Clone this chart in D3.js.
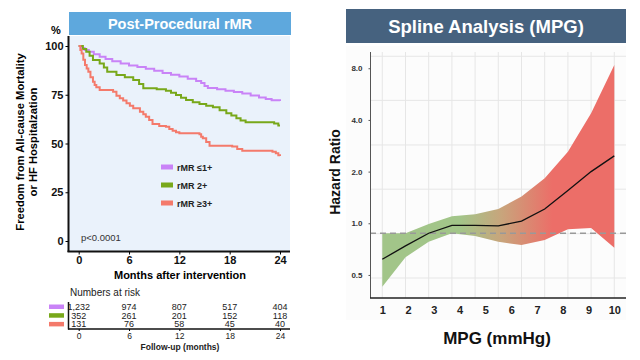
<!DOCTYPE html>
<html><head><meta charset="utf-8">
<script src="https://cdn.jsdelivr.net/npm/d3@7"></script>
<style>body{margin:0;background:#fff}svg{display:block;font-family:"Liberation Sans",Arial,sans-serif}</style>
</head><body><svg id="c" width="640" height="360"></svg>
<script>
// ---------- Left panel data (Kaplan-Meier) ----------
const kmGroups = ["rMR ≤1+", "rMR 2+", "rMR ≥3+"];
const kmColors = ["#c983f7", "#78a81a", "#f47a6b"];
const kmTimeTicks = [0, 6, 12, 18, 24];
const kmYTicks = [0, 25, 50, 75, 100];
const kmPurple = [[0,100],[0.3,99],[0.7,98],[1.2,97],[1.8,95.8],[2.5,94.5],[3.2,93.3],[4,92.2],[5,91],[6,90],[7,89.2],[8,88.3],[9,87.3],[10,86.2],[11,85.2],[12,84.4],[13,83.2],[14,82],[14.6,81],[15,79.5],[15.4,78.5],[16.5,77.8],[17.5,77],[18.5,76.4],[19.5,75.6],[20.5,74.6],[21.5,73.6],[22.3,72.8],[23,72.2],[24,71.8]];
const kmGreen = [[0,100],[0.5,98.5],[0.9,97],[1.3,95],[1.7,92.8],[2.5,91],[3,89],[3.4,86.8],[4.5,85.1],[5.5,84],[6.5,82.6],[7.2,80.5],[7.7,78.3],[9.3,77.8],[10.4,77],[11,76],[11.6,74.9],[12.2,73.5],[12.8,72.3],[13.6,71.2],[14.4,70.3],[15.2,69.4],[16,68.6],[16.8,67],[17.6,65.5],[18.2,64.3],[18.8,62.9],[19.3,61.8],[19.9,60.9],[23.3,60.3],[23.8,59.2],[24,59.2]];
const kmRed = [[0,100],[0.2,98],[0.35,96.2],[0.55,93],[0.75,90.3],[0.95,88.5],[1.15,86.8],[1.4,84],[1.7,81.7],[1.9,80],[2.1,78.8],[2.5,77.4],[4.1,76.5],[4.5,74.5],[4.9,73.2],[5.3,72],[5.7,70.6],[6.1,69.3],[6.5,68.1],[7.3,66.3],[7.7,65],[8,63.7],[8.4,62],[8.8,60],[9.6,59],[10.4,58.6],[10.8,57.5],[11.2,56.6],[11.6,55.8],[12,55.2],[14.4,54.7],[14.6,53.5],[14.8,52.7],[15.2,50.8],[15.6,48.9],[18.3,48.4],[18.9,47.2],[19.5,46.3],[23.1,45.8],[23.5,45],[23.8,44],[24,43.6]];
const atRiskPurple = ["1,232", "974", "807", "517", "404"];
const atRiskGreen = ["352", "261", "201", "152", "118"];
const atRiskRed = ["131", "76", "58", "45", "40"];

// ---------- Right panel data (spline) ----------
const mpgPoints = [1, 1.9, 2.8, 3.7, 4.6, 5.5, 6.4, 7.3, 8.2, 9.1, 10];
const hrEstimate = [0.617, 0.738, 0.875, 0.973, 0.973, 0.965, 1.03, 1.21, 1.55, 2.0, 2.47];
const hrUpper = [0.875, 0.875, 0.99, 1.10, 1.13, 1.21, 1.43, 1.83, 2.61, 4.37, 8.35];
const hrLower = [0.427, 0.634, 0.78, 0.875, 0.843, 0.78, 0.747, 0.80, 0.923, 0.94, 0.72];
const mpgTicks = [1, 2, 3, 4, 5, 6, 7, 8, 9, 10];
const hrTicks = [0.5, 1.0, 2.0, 4.0, 8.0];
const hrGrid = [0.48, 0.87, 1.58, 2.86, 5.2, 9.4];
const hrRef = 0.875;

const svg = d3.select("#c");

// ================= LEFT PANEL =================
const L = svg.append("g");
L.append("rect").attr("x",69).attr("y",12).attr("width",222).attr("height",23).attr("fill","#5ea8dd");
L.append("text").attr("x",180).attr("y",29).attr("text-anchor","middle").attr("fill","#fff")
  .attr("font-weight","bold").attr("font-size",14.5).text("Post-Procedural rMR");
L.append("rect").attr("x",69).attr("y",36).attr("width",221).attr("height",216).attr("fill","#eaf2fb");

const kx = d3.scaleLinear().domain([0,24]).range([78.7,280]);
const ky = d3.scaleLinear().domain([0,100]).range([241,46]);

const line = d3.line().x(d=>kx(d[0])).y(d=>ky(d[1])).curve(d3.curveStepAfter);
[kmPurple, kmGreen, kmRed].forEach((s,i)=>{
  L.append("path").attr("d", line(s)).attr("fill","none").attr("stroke",kmColors[i]).attr("stroke-width",2);
});

// axes
const yAx = L.append("g").attr("transform","translate(68.5,0)")
  .call(d3.axisLeft(ky).tickValues(kmYTicks).tickSize(3).tickPadding(2));
yAx.select(".domain").attr("d","M0,36V252").attr("stroke","#111").attr("stroke-width",2);
yAx.selectAll("text").attr("font-size",11).attr("font-weight","bold").attr("fill","#111").attr("font-family","Liberation Sans, Arial, sans-serif");
const xAx = L.append("g").attr("transform","translate(0,251.5)")
  .call(d3.axisBottom(kx).tickValues(kmTimeTicks).tickSize(3).tickPadding(2));
xAx.select(".domain").attr("d","M67.5,0H290").attr("stroke","#111").attr("stroke-width",2);
xAx.selectAll("text").attr("font-size",11).attr("font-weight","bold").attr("fill","#111").attr("font-family","Liberation Sans, Arial, sans-serif");

L.append("text").attr("x",56).attr("y",34).attr("text-anchor","middle").attr("font-weight","bold").attr("font-size",11).text("%");
L.append("text").attr("x",180).attr("y",279).attr("text-anchor","middle").attr("font-weight","bold").attr("font-size",11).text("Months after intervention");
const yl = L.append("text").attr("transform","translate(24,142) rotate(-90)").attr("text-anchor","middle").attr("font-weight","bold").attr("font-size",11.2);
yl.append("tspan").attr("x",0).attr("dy",0).text("Freedom from All-cause Mortality");
yl.append("tspan").attr("x",0).attr("dy",12.5).text("or HF Hospitalzation");

// legend
kmGroups.forEach((g,i)=>{
  const yy = 167 + i*18;
  L.append("rect").attr("x",161).attr("y",yy-2.5).attr("width",12).attr("height",5).attr("fill",kmColors[i]);
  L.append("text").attr("x",177).attr("y",yy+3.5).attr("font-size",9).attr("font-weight","bold").attr("fill","#222").text(g);
});
L.append("text").attr("x",81).attr("y",241).attr("font-size",9.5).attr("fill","#333").text("p<0.0001");

// numbers at risk
L.append("text").attr("x",70).attr("y",296).attr("font-size",10).attr("fill","#222").text("Numbers at risk");
[atRiskPurple, atRiskGreen, atRiskRed].forEach((row,i)=>{
  const yy = 306.5 + i*8.7;
  L.append("rect").attr("x",49).attr("y",yy-2).attr("width",15).attr("height",4.5).attr("fill",kmColors[i]);
  row.forEach((v,j)=>{
    L.append("text").attr("x",kx(kmTimeTicks[j])).attr("y",yy+3.5).attr("text-anchor","middle").attr("font-size",9).attr("fill","#222").text(v);
  });
});
const rAx = L.append("g").attr("transform","translate(0,329)")
  .call(d3.axisBottom(kx).tickValues(kmTimeTicks).tickSize(2).tickPadding(2));
rAx.select(".domain").attr("d","M68,0H290").attr("stroke","#111").attr("stroke-width",1.5);
rAx.selectAll("text").attr("font-size",8.5).attr("fill","#222").attr("font-family","Liberation Sans, Arial, sans-serif");
L.append("line").attr("x1",68.5).attr("x2",68.5).attr("y1",302).attr("y2",329.5).attr("stroke","#111").attr("stroke-width",1.5);
L.append("text").attr("x",180).attr("y",350).attr("text-anchor","middle").attr("font-size",8.5).attr("font-weight","bold").attr("fill","#222").text("Follow-up (months)");

// ================= RIGHT PANEL =================
const R = svg.append("g");
R.append("rect").attr("x",346).attr("y",9).attr("width",280).attr("height",34).attr("fill","#46627f");
R.append("text").attr("x",486).attr("y",32.5).attr("text-anchor","middle").attr("fill","#fff")
  .attr("font-weight","bold").attr("font-size",18.5).text("Spline Analysis (MPG)");
R.append("rect").attr("x",346).attr("y",46).attr("width",280).attr("height",274).attr("fill","#fcfcfc");

const sx = d3.scaleLinear().domain([1,10]).range([382.3,614.3]);
const sy = d3.scaleLog().base(2).domain([0.367,9.95]).range([298,52]);

// grid
R.selectAll(".vg").data(mpgPoints).enter().append("line")
  .attr("x1",d=>sx(d)).attr("x2",d=>sx(d)).attr("y1",52).attr("y2",298).attr("stroke","#e6e6e6").attr("stroke-width",1);
R.selectAll(".hg").data(hrGrid).enter().append("line")
  .attr("x1",370).attr("x2",626).attr("y1",d=>sy(d)).attr("y2",d=>sy(d)).attr("stroke","#e6e6e6").attr("stroke-width",1);

// gradient
const defs = svg.append("defs");
const grad = defs.append("linearGradient").attr("id","bandGrad").attr("gradientUnits","userSpaceOnUse")
  .attr("x1",sx(4.0)).attr("x2",sx(7.6)).attr("y1",0).attr("y2",0);
grad.append("stop").attr("offset","0%").attr("stop-color","#a2c589");
grad.append("stop").attr("offset","45%").attr("stop-color","#c8a57c");
grad.append("stop").attr("offset","100%").attr("stop-color","#ec6e68");

const bandData = mpgPoints.map((m,i)=>({m, lo:hrLower[i], hi:hrUpper[i], est:hrEstimate[i]}));
R.append("path").attr("d", d3.area().x(d=>sx(d.m)).y0(d=>sy(d.lo)).y1(d=>sy(d.hi))(bandData))
  .attr("fill","url(#bandGrad)");
R.append("line").attr("x1",370).attr("x2",626).attr("y1",sy(hrRef)).attr("y2",sy(hrRef))
  .attr("stroke","#999").attr("stroke-width",1.6).attr("stroke-dasharray","6,4");
R.append("path").attr("d", d3.line().x(d=>sx(d.m)).y(d=>sy(d.est))(bandData))
  .attr("fill","none").attr("stroke","#111").attr("stroke-width",1.3);

// axes
const syAx = R.append("g").attr("transform","translate(370.5,0)")
  .call(d3.axisLeft(sy).tickValues(hrTicks).tickFormat(d3.format(".1f")).tickSize(2).tickPadding(6));
syAx.select(".domain").attr("d","M0,52V298").attr("stroke","#555").attr("stroke-width",1);
syAx.selectAll(".tick line").attr("stroke","#555");
syAx.selectAll("text").attr("font-size",8).attr("font-weight","bold").attr("fill","#333").attr("font-family","Liberation Sans, Arial, sans-serif");
const sxAx = R.append("g").attr("transform","translate(0,298)")
  .call(d3.axisBottom(sx).tickValues(mpgTicks).tickSize(0).tickPadding(8));
sxAx.select(".domain").attr("d","M370,0H626").attr("stroke","#222").attr("stroke-width",1.5);
sxAx.selectAll("text").attr("font-size",11).attr("font-weight","bold").attr("fill","#222").attr("font-family","Liberation Sans, Arial, sans-serif");

R.append("text").attr("x",497).attr("y",344).attr("text-anchor","middle").attr("font-weight","bold").attr("font-size",17).attr("fill","#111").text("MPG (mmHg)");
R.append("text").attr("transform","translate(340,172) rotate(-90)").attr("text-anchor","middle").attr("font-weight","bold").attr("font-size",14).attr("fill","#111").text("Hazard Ratio");
</script></body></html>
